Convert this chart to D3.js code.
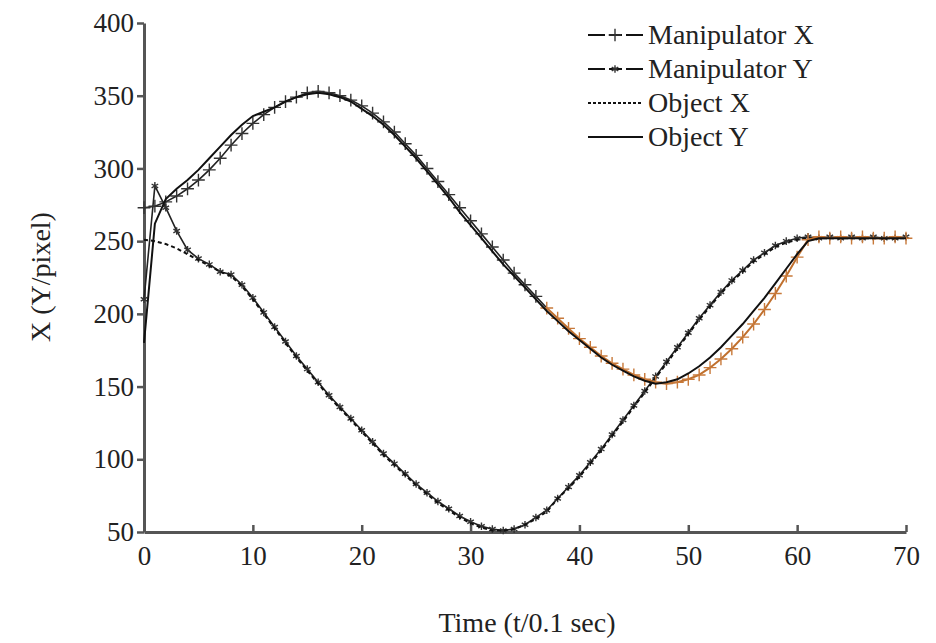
<!DOCTYPE html>
<html>
<head>
<meta charset="utf-8">
<script src="https://cdn.jsdelivr.net/npm/d3@7"></script>
<style>
  body { margin: 0; background: #fff; }
  svg text { font-family: "Liberation Serif", "DejaVu Serif", "Times New Roman", Times, serif; fill: #222; }
</style>
</head>
<body>
<script>
// time axis, t in units of 0.1 sec
var times = d3.range(0, 71);

// upper curve
var objectY = [180,262,279,286,292,299,307,315,323,330,336,339,342,346,349,351,352,351,349,346,
               341,336,330,323,315,307,298,289,280,270,261,252,243,234,226,218,210,202,195,188,
               182,176,170,165,161,157,154,152,153,155,159,164,170,177,185,193,202,211,221,231,
               241,250,252,252,252,252,252,252,252,252,252];
var manipX  = [273,274,277,281,286,292,299,307,316,324,331,337,342,346,349,352,353,352,350,347,
               343,338,332,325,317,309,300,291,282,273,264,255,246,237,228,220,212,204,197,190,
               183,177,171,166,162,158,155,153,152,153,155,158,163,169,176,184,193,203,214,226,
               239,251,253,252,253,252,253,252,252,253,252];
// lower curve
var objectX = [251,250,248,245,241,237,233,229,226,219,210,200,190,180,170,161,152,143,135,127,
               119,111,103,96,89,82,76,70,65,60,56,53,51,51,52,55,59,64,73,80,
               88,97,106,116,126,136,146,156,166,176,186,196,205,214,222,229,236,241,246,249,
               251,252,252,252,252,252,252,252,252,252,252];
var manipY  = [210,288,273,257,244,238,234,229,227,220,211,201,191,181,171,162,153,144,136,128,
               120,112,104,97,90,83,77,71,66,61,57,54,52,51,52,55,60,65,73,81,
               89,98,107,117,127,137,147,157,167,177,187,197,206,215,223,230,237,242,247,250,
               252,253,252,253,252,253,252,253,252,252,253];

var xTicks = [0,10,20,30,40,50,60,70];
var yTicks = [50,100,150,200,250,300,350,400];
var legendNames = ["Manipulator X","Manipulator Y","Object X","Object Y"];

var width = 936, height = 643;
var margin = {top: 23, right: 30, bottom: 111, left: 144};
var orangeFrom = 37;
var serif = '"Liberation Serif", "DejaVu Serif", "Times New Roman", Times, serif';

var svg = d3.select("body").append("svg")
  .attr("width", width)
  .attr("height", height);

var x = d3.scaleLinear().domain([0, 70]).range([margin.left, width - margin.right]);
var y = d3.scaleLinear().domain([50, 400]).range([height - margin.bottom, margin.top]);

function pts(vals) { return vals.map(function(v, i) { return [times[i], v]; }); }
var line = d3.line().x(function(d) { return x(d[0]); }).y(function(d) { return y(d[1]); });

// axes
var xAxis = svg.append("g")
  .attr("transform", "translate(0," + y(50) + ")")
  .call(d3.axisBottom(x).tickValues(xTicks).tickSizeInner(-7).tickSizeOuter(0).tickPadding(14));
var yAxis = svg.append("g")
  .attr("transform", "translate(" + x(0) + ",0)")
  .call(d3.axisLeft(y).tickValues(yTicks).tickSizeInner(7).tickSizeOuter(0).tickPadding(3));
[xAxis, yAxis].forEach(function(g) {
  g.attr("font-family", serif).attr("font-size", 27);
  g.select(".domain").attr("stroke", "#555").attr("stroke-width", 3);
  g.selectAll(".tick line").attr("stroke", "#555").attr("stroke-width", 2.5);
  g.selectAll(".tick text").style("font-family", serif).attr("fill", "#333");
});

// Manipulator Y: line + asterisk markers
var star = d3.symbol().type(d3.symbolAsterisk).size(40);
var plus = d3.symbol().type(d3.symbolPlus).size(55);

svg.append("path").attr("d", line(pts(manipY)))
  .attr("fill", "none").attr("stroke", "#222").attr("stroke-width", 1.6);
svg.append("g").selectAll("path").data(pts(manipY)).enter().append("path")
  .attr("transform", function(d) { return "translate(" + x(d[0]) + "," + y(d[1]) + ")"; })
  .attr("d", star).attr("fill", "none").attr("stroke", "#333").attr("stroke-width", 1.4);

// Object X: dashed
svg.append("path").attr("d", line(pts(objectX)))
  .attr("fill", "none").attr("stroke", "#111").attr("stroke-width", 2).attr("stroke-dasharray", "4,3");

// Manipulator X: line + plus markers (orange after t=37)
var mx = pts(manipX);
svg.append("path").attr("d", line(mx.filter(function(d) { return d[0] <= orangeFrom; })))
  .attr("fill", "none").attr("stroke", "#222").attr("stroke-width", 1.6);
svg.append("path").attr("d", line(mx.filter(function(d) { return d[0] >= orangeFrom; })))
  .attr("fill", "none").attr("stroke", "#c0702e").attr("stroke-width", 2);
svg.append("g").selectAll("path").data(mx).enter().append("path")
  .attr("transform", function(d) { return "translate(" + x(d[0]) + "," + y(d[1]) + ")"; })
  .attr("d", plus).attr("fill", "none")
  .attr("stroke", function(d) { return d[0] >= orangeFrom ? "#c8793a" : "#333"; })
  .attr("stroke-width", 1.4);

// Object Y: solid
svg.append("path").attr("d", line(pts(objectY)))
  .attr("fill", "none").attr("stroke", "#111").attr("stroke-width", 2);

// axis titles
svg.append("text")
  .attr("x", (x(0) + x(70)) / 2 + 2).attr("y", 632)
  .attr("text-anchor", "middle").attr("font-size", 28)
  .style("font-family", serif)
  .text("Time (t/0.1 sec)");
svg.append("text")
  .attr("transform", "translate(50," + 277 + ") rotate(-90)")
  .attr("text-anchor", "middle").attr("font-size", 28)
  .style("font-family", serif)
  .text("X (Y/pixel)");

// legend
var legend = svg.append("g").attr("transform", "translate(588,35)");
var rows = legend.selectAll("g").data(legendNames).enter().append("g")
  .attr("transform", function(d, i) { return "translate(0," + (i * 34) + ")"; });
rows.append("line")
  .attr("x1", 0).attr("x2", 55).attr("y1", 0).attr("y2", 0)
  .attr("stroke", "#111").attr("stroke-width", 2)
  .attr("stroke-dasharray", function(d, i) { return i == 2 ? "3,2" : (i < 2 ? "17,4,13,4,17" : null); });
rows.filter(function(d, i) { return i == 0; }).append("path")
  .attr("transform", "translate(27,0)").attr("d", plus).attr("fill", "none").attr("stroke", "#333").attr("stroke-width", 1.4);
rows.filter(function(d, i) { return i == 1; }).append("path")
  .attr("transform", "translate(27,0)").attr("d", star).attr("fill", "none").attr("stroke", "#333").attr("stroke-width", 1.4);
rows.append("text")
  .attr("x", 60).attr("y", 9).attr("font-size", 28)
  .style("font-family", serif)
  .text(function(d) { return d; });
</script>
</body>
</html>
